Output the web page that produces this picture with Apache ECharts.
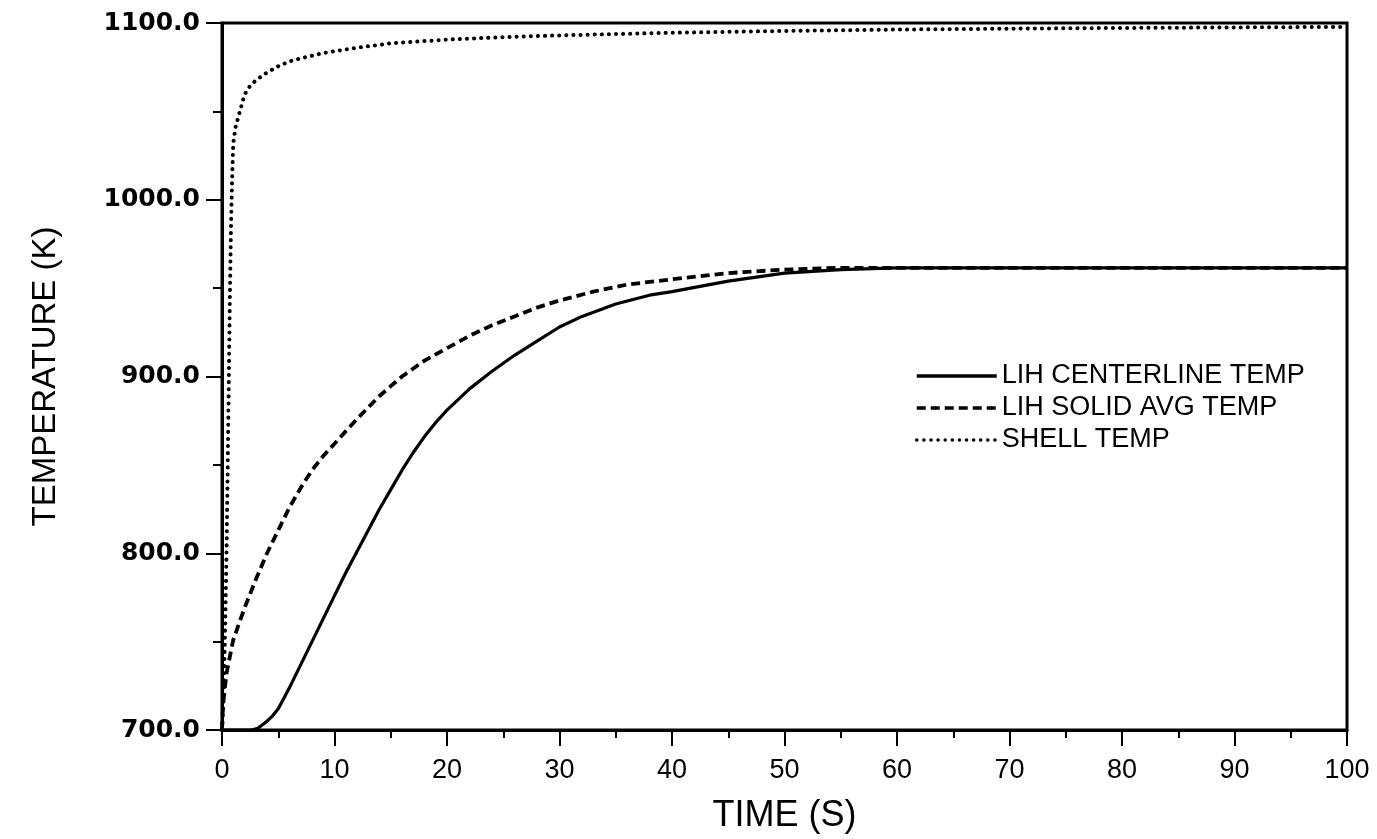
<!DOCTYPE html>
<html>
<head>
<meta charset="utf-8">
<script src="https://cdn.jsdelivr.net/npm/echarts@6/dist/echarts.min.js"></script>
<style>
html,body{margin:0;padding:0;background:#fff;}
#chart{width:1377px;height:839px;}
</style>
</head>
<body>
<div id="chart"></div>
<script>
// ---- data ----
var seriesNames = ['LIH CENTERLINE TEMP', 'LIH SOLID AVG TEMP', 'SHELL TEMP'];

var centerTime = [0, 2, 2.6, 3.2, 3.6, 4, 4.5, 5, 5.5, 6, 7, 8, 9, 10, 11, 12, 13, 14, 15, 16, 17, 18, 19, 20, 22, 24, 26, 28, 30, 32, 35, 38, 40, 45, 50, 55, 60, 70, 80, 90, 100];
var centerTemp = [700, 700, 700, 701, 703, 705, 708, 712, 718, 724, 737, 750, 763, 776, 789, 801, 813, 825, 836, 847, 857, 866, 874, 881, 893, 903, 912, 920, 928, 934, 941, 946, 948, 954, 958.5, 960.5, 961.5, 961.5, 961.5, 961.5, 961.5];

var avgTime = [0, 0.1, 0.4, 1, 2, 3, 4, 5, 6, 7, 8, 9, 10, 12, 14, 16, 18, 20, 22, 24, 26, 28, 30, 33, 36, 40, 45, 50, 55, 60, 70, 80, 90, 100];
var avgTemp = [700, 715, 732, 751, 769, 785, 800, 813, 826, 837, 847, 855, 862, 876, 889, 900, 909, 916, 923, 929, 934, 939, 943, 948, 952, 955, 958.5, 960.5, 961.5, 961.5, 961.5, 961.5, 961.5, 961.5];

var shellTime = [0, 0.1, 0.2, 0.3, 0.4, 0.5, 0.6, 0.7, 0.8, 0.9, 1.0, 1.2, 1.5, 2, 2.5, 3, 4, 5, 6, 7, 8, 9, 10, 12, 15, 20, 25, 30, 40, 50, 60, 70, 80, 90, 100];
var shellTemp = [700, 712, 735, 765, 800, 845, 895, 945, 985, 1012, 1032, 1041, 1048, 1059.5, 1064.5, 1067.5, 1072, 1075.5, 1078.3, 1080, 1081.5, 1083, 1084, 1086, 1088.5, 1090.6, 1092, 1093, 1094.5, 1095.5, 1096.3, 1096.8, 1097.2, 1097.5, 1097.8];

var xTicks = {min: 0, max: 100, interval: 10};
var yTicks = {min: 700, max: 1100, interval: 100};

function pairs(xs, ys) {
  var out = [];
  for (var i = 0; i < xs.length; i++) out.push([xs[i], ys[i]]);
  return out;
}

var sans = "'Liberation Sans', Arial, sans-serif";

var chart = echarts.init(document.getElementById('chart'), null, {renderer: 'canvas'});
chart.setOption({
  backgroundColor: '#ffffff',
  animation: false,
  grid: {
    left: 222, top: 23, right: 30, bottom: 106,
    show: true, borderColor: '#000', borderWidth: 3, backgroundColor: 'transparent'
  },
  legend: {
    orient: 'vertical',
    left: 910, top: 355,
    itemWidth: 80, itemHeight: 20, itemGap: 0,
    itemStyle: {color: 'rgba(0,0,0,0)', borderColor: 'rgba(0,0,0,0)', borderWidth: 0, opacity: 0},
    lineStyle: {width: 3.5},
    textStyle: {fontSize: 27, fontFamily: sans, color: '#000', lineHeight: 32},
    data: seriesNames
  },
  xAxis: {
    type: 'value',
    min: xTicks.min, max: xTicks.max, interval: xTicks.interval,
    axisLine: {show: true, onZero: false, lineStyle: {color: '#000', width: 3}},
    axisTick: {show: true, length: 16, lineStyle: {color: '#000', width: 2}},
    minorTick: {show: true, splitNumber: 2, length: 8, lineStyle: {color: '#000', width: 2}},
    splitLine: {show: false},
    axisLabel: {margin: 27, fontSize: 27, fontFamily: sans, color: '#000'},
    name: 'TIME (S)',
    nameLocation: 'middle',
    nameGap: 68,
    nameTextStyle: {fontSize: 36, fontFamily: sans, color: '#000'}
  },
  yAxis: {
    type: 'value',
    min: yTicks.min, max: yTicks.max, interval: yTicks.interval,
    axisLine: {show: true, onZero: false, lineStyle: {color: '#000', width: 3}},
    axisTick: {show: true, length: 16, lineStyle: {color: '#000', width: 2}},
    minorTick: {show: true, splitNumber: 2, length: 9, lineStyle: {color: '#000', width: 2}},
    splitLine: {show: false},
    axisLabel: {
      margin: 22, fontSize: 25, fontWeight: 'bold', fontFamily: 'DejaVu Sans', color: '#000',
      formatter: function (v) { return v.toFixed(1); }
    },
    name: 'TEMPERATURE (K)',
    nameLocation: 'middle',
    nameRotate: 90,
    nameGap: 160,
    nameTextStyle: {fontSize: 33, fontFamily: sans, color: '#000'}
  },
  series: [
    {
      name: seriesNames[0], type: 'line', data: pairs(centerTime, centerTemp),
      showSymbol: false, symbol: 'none', smooth: false,
      lineStyle: {color: '#000', width: 3.2, type: 'solid'}, itemStyle: {color: '#000'}, z: 3
    },
    {
      name: seriesNames[1], type: 'line', data: pairs(avgTime, avgTemp),
      showSymbol: false, symbol: 'none', smooth: false,
      lineStyle: {color: '#000', width: 3.8, type: [9, 5]}, itemStyle: {color: '#000'}, z: 3
    },
    {
      name: seriesNames[2], type: 'line', data: pairs(shellTime, shellTemp),
      showSymbol: false, symbol: 'none', smooth: false,
      lineStyle: {color: '#000', width: 4, type: [0.1, 7], cap: 'round'}, itemStyle: {color: '#000'}, z: 3
    }
  ]
});
</script>
</body>
</html>
